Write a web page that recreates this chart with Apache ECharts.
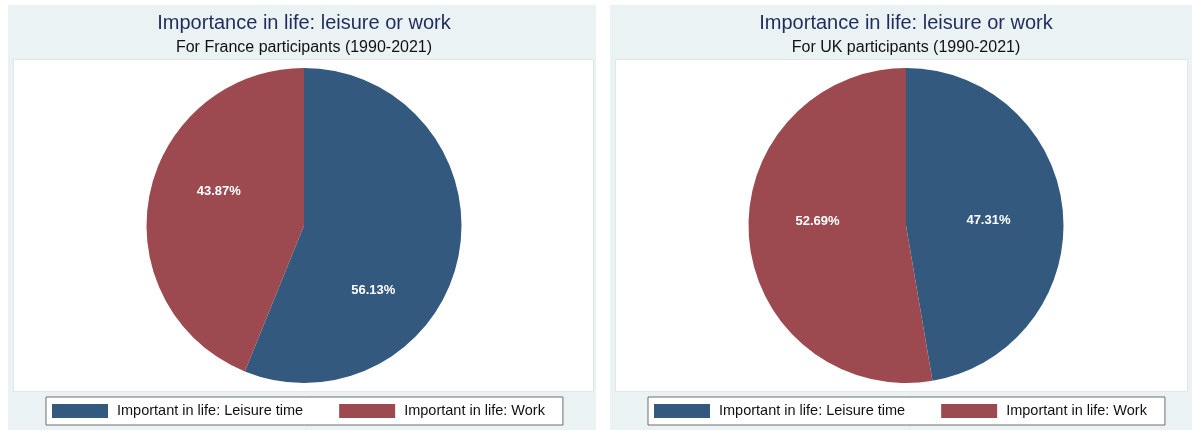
<!DOCTYPE html>
<html>
<head>
<meta charset="utf-8">
<title>Importance in life: leisure or work</title>
<script src="https://cdn.jsdelivr.net/npm/echarts@6/dist/echarts.min.js"></script>
<style>
  html, body { margin: 0; padding: 0; background: #ffffff; }
  #chart { width: 1192px; height: 430px; }
</style>
</head>
<body>
<div id="chart"></div>
<script>
// Answer shares (%) per country, in slice order
const categories = ['Important in life: Leisure time', 'Important in life: Work'];
const franceShares = [56.13, 43.87];
const ukShares = [47.31, 52.69];
const chartTitle = 'Importance in life: leisure or work';
const subtitles = ['For France participants (1990-2021)', 'For UK participants (1990-2021)'];

// Styling
const FONT = '"Liberation Sans", Arial, Helvetica, sans-serif';
const sliceColors = ['#34597e', '#9c4a50'];
const panelBg = '#eaf2f3';
const titleColor = '#1f2d5c';

// Panel geometry: [panel rect, plot rect, pie centre x, legend left]
const panels = [
  { box: [8, 5, 588, 425], plot: [13, 59, 580, 332], cx: 304, legendLeft: 46 },
  { box: [610, 5, 582, 425], plot: [615, 59, 572, 332], cx: 906, legendLeft: 648 }
];
// small label nudges (px) per slice, per panel
const labelNudges = [
  [[-11, 49], [-5, -18]],
  [[1, 2], [-7, -11]]
];

const seriesShares = [franceShares, ukShares];

const graphics = [];
panels.forEach(p => {
  graphics.push({
    type: 'rect', silent: true, z: -10,
    shape: { x: p.box[0], y: p.box[1], width: p.box[2], height: p.box[3] },
    style: { fill: panelBg }
  });
  graphics.push({
    type: 'rect', silent: true, z: -9,
    shape: { x: p.plot[0] + 0.5, y: p.plot[1] + 0.5, width: p.plot[2], height: p.plot[3] },
    style: { fill: '#ffffff', stroke: '#dfe7e9', lineWidth: 1 }
  });
});

const titles = [];
panels.forEach((p, i) => {
  titles.push({
    text: chartTitle, left: p.cx, top: 13, textAlign: 'center', padding: 0,
    textStyle: { fontFamily: FONT, fontSize: 20, fontWeight: 'normal', color: titleColor }
  });
  titles.push({
    text: subtitles[i], left: p.cx, top: 40, textAlign: 'center', padding: 0,
    textStyle: { fontFamily: FONT, fontSize: 16, fontWeight: 'normal', color: '#111111' }
  });
});

const legends = panels.map(p => ({
  left: p.legendLeft, top: 397,
  orient: 'horizontal',
  icon: 'rect',
  itemWidth: 56, itemHeight: 14, itemGap: 36,
  selectedMode: false,
  backgroundColor: '#ffffff',
  borderColor: '#6e6e6e', borderWidth: 1, borderRadius: 0,
  padding: [6.5, 18, 6.5, 6],
  textStyle: { fontFamily: FONT, fontSize: 14.5, color: '#111111', lineHeight: 14, padding: [0, 0, 0, 4] },
  data: categories
}));

const series = panels.map((p, k) => ({
  type: 'pie',
  center: [p.cx, 225.5],
  radius: 157.5,
  startAngle: 90,
  clockwise: true,
  avoidLabelOverlap: false,
  silent: true,
  emphasis: { disabled: true },
  itemStyle: { borderWidth: 0 },
  labelLine: { show: false },
  label: {
    show: true, position: 'inside',
    color: '#ffffff', fontFamily: FONT, fontSize: 13, fontWeight: 'bold',
    formatter: prm => prm.value.toFixed(2) + '%'
  },
  data: categories.map((name, i) => ({
    name: name,
    value: seriesShares[k][i],
    label: { offset: labelNudges[k][i] }
  }))
}));

const chart = echarts.init(document.getElementById('chart'), null, { renderer: 'canvas' });
chart.setOption({
  animation: false,
  color: sliceColors,
  graphic: graphics,
  title: titles,
  legend: legends,
  series: series
});
</script>
</body>
</html>
